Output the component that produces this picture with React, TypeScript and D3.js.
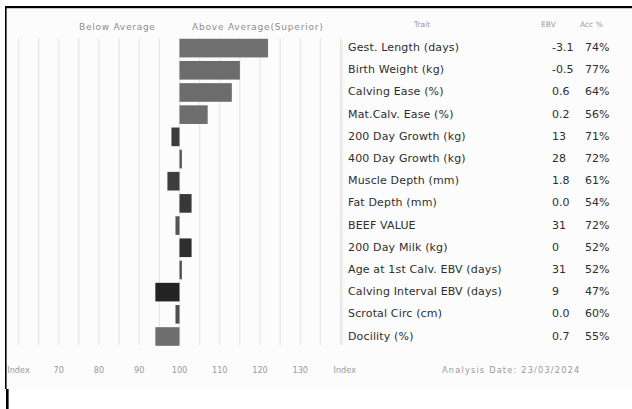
import React from "react";
import * as d3 from "d3";

const traits = [
  "Gest. Length (days)",
  "Birth Weight (kg)",
  "Calving Ease (%)",
  "Mat.Calv. Ease (%)",
  "200 Day Growth (kg)",
  "400 Day Growth (kg)",
  "Muscle Depth (mm)",
  "Fat Depth (mm)",
  "BEEF VALUE",
  "200 Day Milk (kg)",
  "Age at 1st Calv. EBV (days)",
  "Calving Interval EBV (days)",
  "Scrotal Circ (cm)",
  "Docility (%)",
];
const ebvValues = ["-3.1", "-0.5", "0.6", "0.2", "13", "28", "1.8", "0.0", "31", "0", "31", "9", "0.0", "0.7"];
const accValues = ["74%", "77%", "64%", "56%", "71%", "72%", "61%", "54%", "72%", "52%", "52%", "47%", "60%", "55%"];
const indexValues = [122, 115, 113, 107, 98, 100.6, 97, 103, 99, 103, 100.6, 94, 99, 94];
const tickValues = [70, 80, 90, 100, 110, 120, 130];
const gridValues = d3.range(60, 141, 5);

const barShades = [
  "#707070", "#6c6c6c", "#6c6c6c", "#6e6e6e", "#3c3c3c", "#5a5a5a", "#3e3e3e",
  "#383838", "#555555", "#2e2e2e", "#555555", "#242424", "#4e4e4e", "#6e6e6e",
];

const FONT = "'DejaVu Sans', sans-serif";

export default function App() {
  const W = 632;
  const H = 409;
  const x = d3.scaleLinear().domain([60, 140]).range([18.5, 340.5]);
  const y = d3
    .scaleBand<string>()
    .domain(traits)
    .range([37, 347.6])
    .paddingInner(0.16)
    .paddingOuter(0.08);
  const base = x(100);

  return (
    <svg
      width={W}
      height={H}
      style={{ position: "absolute", left: 0, top: 0 }}
      xmlns="http://www.w3.org/2000/svg"
    >
      <rect x={0} y={0} width={W} height={H} fill="#ffffff" />
      <rect x={6} y={8} width={W - 6} height={381} fill="#fcfcfc" />

      {/* grid */}
      {gridValues.map((g) => (
        <line
          key={g}
          x1={x(g)}
          x2={x(g)}
          y1={38}
          y2={345}
          stroke="#e7e7e7"
          strokeWidth={1.2}
        />
      ))}

      {/* header */}
      <text x={79} y={27} fontFamily={FONT} fontSize={9} fill="#8c8c8c" dominantBaseline="middle" letterSpacing={0.75}>
        Below Average
      </text>
      <text x={192} y={27} fontFamily={FONT} fontSize={9} fill="#8c8c8c" dominantBaseline="middle" letterSpacing={0.8}>
        Above Average(Superior)
      </text>
      <text x={414} y={25} fontFamily={FONT} fontSize={7.5} fill="#9a9a9a" dominantBaseline="middle">
        Trait
      </text>
      <text x={541} y={25} fontFamily={FONT} fontSize={7.5} fill="#9a9a9a" dominantBaseline="middle">
        EBV
      </text>
      <text x={580} y={25} fontFamily={FONT} fontSize={7.5} fill="#9a9a9a" dominantBaseline="middle">
        Acc %
      </text>

      {/* bars */}
      {traits.map((t, i) => {
        const v = indexValues[i];
        const x0 = Math.min(base, x(v));
        const w = Math.abs(x(v) - base);
        return (
          <rect
            key={t}
            x={x0}
            y={y(t)}
            width={w}
            height={y.bandwidth()}
            fill={barShades[i]}
          />
        );
      })}

      {/* separator */}
      <line x1={342} x2={342} y1={40} y2={345} stroke="#e2e2e2" strokeWidth={1} />

      {/* table */}
      {traits.map((t, i) => {
        const cy = (y(t) ?? 0) + y.bandwidth() / 2;
        return (
          <g key={t} fontFamily={FONT} fill="#2e2e2e" fontSize={11}>
            <text x={348} y={cy} dominantBaseline="middle" letterSpacing={0.15}>{t}</text>
            <text x={552} y={cy} dominantBaseline="middle">{ebvValues[i]}</text>
            <text x={585} y={cy} dominantBaseline="middle">{accValues[i]}</text>
          </g>
        );
      })}

      {/* bottom axis */}
      <text x={x(60)} y={370} textAnchor="middle" fontFamily={FONT} fontSize={8.2} fill="#9a9a9a" dominantBaseline="middle">
        Index
      </text>
      {tickValues.map((t) => (
        <text key={t} x={x(t)} y={370} textAnchor="middle" fontFamily={FONT} fontSize={8.2} fill="#9a9a9a" dominantBaseline="middle">
          {t}
        </text>
      ))}
      <text x={x(140) - 7} y={370} fontFamily={FONT} fontSize={8.2} fill="#9a9a9a" dominantBaseline="middle">
        Index
      </text>
      <text x={442} y={370} fontFamily={FONT} fontSize={8.2} fill="#9a9a9a" dominantBaseline="middle" letterSpacing={1.2}>
        Analysis Date: 23/03/2024
      </text>

      {/* frame */}
      <rect x={5} y={6} width={W - 5} height={2.2} fill="#000" />
      <rect x={5} y={6} width={1.6} height={383} fill="#000" />
      <rect x={6} y={389} width={2.6} height={20} fill="#000" />
    </svg>
  );
}
